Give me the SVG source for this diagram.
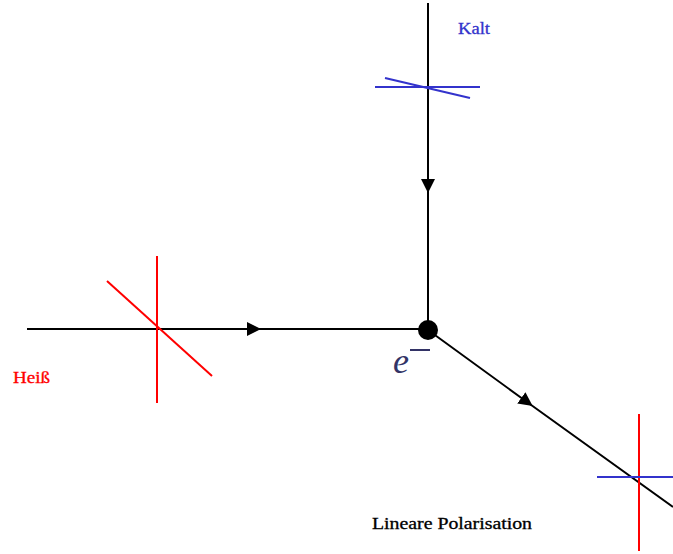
<svg xmlns="http://www.w3.org/2000/svg" width="673" height="554" viewBox="0 0 673 554">
<style>
.ln{stroke:#000;stroke-width:2;fill:none}
.red{stroke:#ff0000;stroke-width:2;fill:none}
.blue{stroke:#3333cc;stroke-width:2;fill:none}
.lbl{font-family:"Liberation Serif",serif;font-size:16px;stroke-width:0.3}
</style>
<defs>
<marker id="ah" viewBox="0 0 10 10" refX="5" refY="5" markerWidth="14" markerHeight="14" markerUnits="userSpaceOnUse" orient="auto">
<path d="M0,0 L10,5 L0,10 z" fill="#000"/>
</marker>
</defs>
<rect width="673" height="554" fill="#fff"/>
<g id="connectors">
<path class="ln" d="M428,3 L428,186 L428,330" marker-mid="url(#ah)"/>
<path class="ln" d="M27,329 L254,329 L428,329" marker-mid="url(#ah)"/>
<path class="ln" d="M428,330 L527,402 L673,507" marker-mid="url(#ah)"/>
</g>
<g id="vertex">
<circle cx="428" cy="330" r="10" fill="#000"/>
<text x="393" y="373" font-family="'Liberation Serif',serif" font-style="italic" font-size="36" fill="#333366">e</text>
<line x1="410" y1="350" x2="430" y2="350" stroke="#333366" stroke-width="2"/>
</g>
<g id="kalt">
<line class="blue" x1="375" y1="87" x2="480" y2="87"/>
<line class="blue" x1="385" y1="78" x2="470" y2="98"/>
<text class="lbl" x="458" y="34" fill="#3333cc" stroke="#3333cc" textLength="32" lengthAdjust="spacingAndGlyphs">Kalt</text>
</g>
<g id="heiss">
<line class="red" x1="157" y1="256" x2="157" y2="403"/>
<line class="red" x1="107" y1="281" x2="212" y2="376"/>
<text class="lbl" x="13" y="383" fill="#ff0000" stroke="#ff0000" textLength="37" lengthAdjust="spacingAndGlyphs">Heiß</text>
</g>
<g id="out">
<line class="red" x1="639" y1="414" x2="639" y2="551"/>
<line class="blue" x1="597" y1="477" x2="673" y2="477"/>
</g>
<text class="lbl" x="372" y="529" fill="#000" stroke="#000" textLength="160" lengthAdjust="spacingAndGlyphs">Lineare Polarisation</text>
</svg>
